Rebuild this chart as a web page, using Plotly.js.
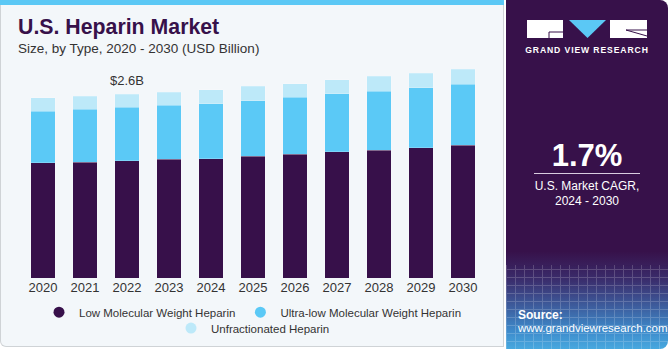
<!DOCTYPE html>
<html>
<head>
<meta charset="utf-8">
<script src="https://cdn.plot.ly/plotly-3.0.1.min.js"></script>
<style>
  html, body { margin:0; padding:0; width:670px; height:350px; overflow:hidden; background:#ffffff; font-family:"Liberation Sans", Arial, sans-serif; }
  #leftpanel { position:absolute; left:0; top:0; width:502px; height:346px; background:#f3f7fa; border:1px solid #cfd3d6; border-top:none; border-radius:0 0 0 6px; }
  #topstrip { position:absolute; left:0; top:0; width:504px; height:5px; background:#5bc8f5; }
  #rightpanel { position:absolute; left:506px; top:0; width:162px; height:349px; border-radius:0 8px 8px 0;
     background: linear-gradient(to bottom, #37114a 0%, #37114a 72%, #3b2d6c 80%, #3d5f9f 88%, #3f8ccc 95%, #48a9df 100%); overflow:hidden; }
  #grid { position:absolute; left:0; top:265px; width:162px; height:85px; opacity:0.18;
     background-image: repeating-linear-gradient(90deg, #ffffff 0 1px, transparent 1px 9px), repeating-linear-gradient(0deg, #ffffff 0 1px, transparent 1px 8px); }
  #chart { position:absolute; left:0; top:0; width:670px; height:350px; }
  .rp { position:absolute; color:#ffffff; }
</style>
</head>
<body>
<div id="leftpanel"></div>
<div id="topstrip"></div>
<div id="rightpanel">
  <div id="grid"></div>
  <svg class="rp" style="left:0;top:0" width="162" height="60">
    <rect x="21" y="20" width="36" height="18" fill="#ffffff"/>
    <line x1="43" y1="32" x2="57" y2="32" stroke="#37114a" stroke-width="1"/>
    <line x1="43" y1="32" x2="43" y2="38" stroke="#37114a" stroke-width="1"/>
    <polygon points="63,20 100,20 81.5,38" fill="#5bc8f5"/>
    <rect x="104" y="20" width="37" height="18" fill="#ffffff"/>
    <line x1="120" y1="30" x2="141" y2="36" stroke="#37114a" stroke-width="1"/>
    <line x1="120" y1="30" x2="141" y2="30" stroke="#37114a" stroke-width="1"/>
  </svg>
  <div class="rp" style="left:0;top:45px;width:162px;text-align:center;font-size:8.6px;font-weight:bold;letter-spacing:0.9px;">GRAND VIEW RESEARCH</div>
  <div class="rp" style="left:0;top:138px;width:162px;text-align:center;font-size:31px;font-weight:bold;">1.7%</div>
  <div class="rp" style="left:28px;top:173px;width:106px;height:1px;background:#d9cde0;"></div>
  <div class="rp" style="left:0;top:179px;width:162px;text-align:center;font-size:12px;line-height:15px;">U.S. Market CAGR,<br>2024 - 2030</div>
  <div class="rp" style="left:12px;top:308px;font-size:12px;font-weight:bold;">Source:</div>
  <div class="rp" style="left:12px;top:322px;font-size:11.5px;">www.grandviewresearch.com</div>
</div>
<div id="chart"></div>
<script>
const years = ['2020','2021','2022','2023','2024','2025','2026','2027','2028','2029','2030'];
const lowMW = [1.63, 1.64, 1.66, 1.68, 1.69, 1.72, 1.75, 1.785, 1.81, 1.84, 1.88];
const ultraLowMW = [0.73, 0.745, 0.755, 0.765, 0.775, 0.79, 0.81, 0.82, 0.835, 0.855, 0.86];
const unfractionated = [0.19, 0.19, 0.185, 0.185, 0.2, 0.2, 0.19, 0.2, 0.21, 0.2, 0.215];
const seriesNames = ['Low Molecular Weight Heparin', 'Ultra-low Molecular Weight Heparin', 'Unfractionated Heparin'];
const seriesColors = ['#37104a', '#5bc9f6', '#bde9f9'];
const labelYear = '2022';
const labelText = '$2.6B';

const seriesData = [lowMW, ultraLowMW, unfractionated];
const traces = [];
seriesData.forEach((vals, i) => {
  traces.push({
    type:'bar', x: years, y: vals, name: seriesNames[i],
    marker:{color: seriesColors[i], line:{color:'rgba(255,255,255,0.35)', width:0.6}},
    showlegend:false, hoverinfo:'none'
  });
});
// legend entries (circle markers) on a hidden helper axis pair
seriesNames.forEach((n, i) => {
  traces.push({
    type:'scatter', mode:'markers', x:[0], y:[-10], xaxis:'x2', yaxis:'y2', name:n,
    marker:{color: seriesColors[i], size:11, symbol:'circle'},
    legend: i < 2 ? 'legend' : 'legend2', showlegend:true, hoverinfo:'none'
  });
});

const li = years.indexOf(labelYear);
const labelTotal = lowMW[li] + ultraLowMW[li] + unfractionated[li];

const layout = {
  width:670, height:350,
  paper_bgcolor:'rgba(0,0,0,0)', plot_bgcolor:'rgba(0,0,0,0)',
  margin:{l:22, r:186, t:66, b:72, autoexpand:false},
  barmode:'stack', bargap:0.42,
  font:{family:'"Liberation Sans", Arial, sans-serif', color:'#333333'},
  xaxis:{type:'category', range:[-0.5, years.length - 0.5], showgrid:false, zeroline:false, showline:false, ticks:'',
         tickfont:{size:13, color:'#333333'}, fixedrange:true, automargin:false},
  yaxis:{range:[0,3.0], visible:false, fixedrange:true},
  xaxis2:{range:[0,1], visible:false, overlaying:'x', fixedrange:true},
  yaxis2:{range:[0,1], visible:false, overlaying:'y', fixedrange:true},
  legend:{orientation:'h', x:0.5, xanchor:'center', y:-0.093, yanchor:'top', traceorder:'normal',
          font:{size:11.5, color:'#333333'}, bgcolor:'rgba(0,0,0,0)', itemwidth:30},
  legend2:{orientation:'h', x:0.5, xanchor:'center', y:-0.168, yanchor:'top',
          font:{size:11.5, color:'#333333'}, bgcolor:'rgba(0,0,0,0)', itemwidth:30},
  annotations:[
    {xref:'paper', yref:'paper', x:-0.02, y:1.185, xanchor:'left', yanchor:'middle', showarrow:false,
     text:'<b>U.S. Heparin Market</b>', font:{size:21.3, color:'#37114a'}, xshift:3},
    {xref:'paper', yref:'paper', x:-0.02, y:1.0825, xanchor:'left', yanchor:'middle', showarrow:false,
     text:'Size, by Type, 2020 - 2030 (USD Billion)', font:{size:13.5, color:'#333333'}, xshift:3},
    {xref:'x', yref:'y', x:li, y:labelTotal, yanchor:'bottom', showarrow:false, yshift:4,
     text:labelText, font:{size:13, color:'#333333'}}
  ]
};
Plotly.newPlot('chart', traces, layout, {displayModeBar:false, staticPlot:true});
</script>
</body>
</html>
